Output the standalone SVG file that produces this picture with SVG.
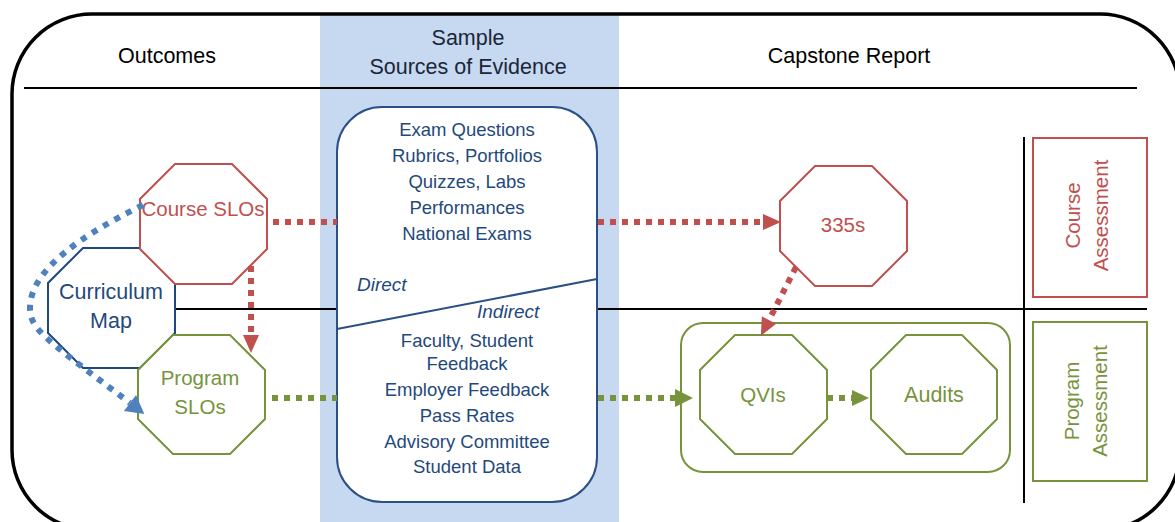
<svg xmlns="http://www.w3.org/2000/svg" width="1175" height="522" viewBox="0 0 1175 522">
<defs>
<style>
text{font-family:"Liberation Sans",Arial,sans-serif}
.hdr{font-size:21.5px;fill:#000;text-anchor:middle}
.hdrb{font-size:21.5px;fill:#1b2638;text-anchor:middle}
.ev{font-size:18.5px;fill:#1F497D;text-anchor:middle}
.evi{font-size:19px;fill:#1F497D;font-style:italic}
.lbl{font-size:20.5px;text-anchor:middle}
.big{font-size:21.5px}
.red{fill:#C0504D}
.grn{fill:#77933C}
.blu{fill:#1F497D}
.octR{fill:#fff;stroke:#C0504D;stroke-width:2}
.octG{fill:#fff;stroke:#77933C;stroke-width:2}
.octB{fill:#fff;stroke:#1F497D;stroke-width:2}
.rule{stroke:#000;stroke-width:2;fill:none}
.dR{fill:none;stroke:#C0504D;stroke-width:6;stroke-dasharray:6 6}
.dG{fill:none;stroke:#77933C;stroke-width:6;stroke-dasharray:6 6}
.dB{fill:none;stroke:#4F81BD;stroke-width:6;stroke-dasharray:6 7}
</style>
<marker id="aR" markerWidth="18" markerHeight="16" refX="0" refY="8" orient="auto" markerUnits="userSpaceOnUse" overflow="visible"><path d="M0,0 L18,8 L0,16 z" fill="#C0504D"/></marker>
<marker id="aG" markerWidth="18" markerHeight="18" refX="0" refY="9" orient="auto" markerUnits="userSpaceOnUse" overflow="visible"><path d="M0,0 L18,9 L0,18 z" fill="#77933C"/></marker>
<marker id="aGs" markerWidth="17" markerHeight="16" refX="0" refY="8" orient="auto" markerUnits="userSpaceOnUse" overflow="visible"><path d="M0,0 L17,8 L0,16 z" fill="#77933C"/></marker>
<marker id="aB" markerWidth="18" markerHeight="20" refX="0" refY="10" orient="auto" markerUnits="userSpaceOnUse" overflow="visible"><path d="M0,0 L18,10 L0,20 z" fill="#4F81BD"/></marker>
</defs>
<rect x="0" y="0" width="1175" height="522" fill="#fff"/>
<g id="frame">
<rect x="320" y="14" width="299" height="520" fill="#C6D9F1"/>
<rect x="12" y="14" width="1168" height="516" rx="80" ry="80" fill="none" stroke="#000" stroke-width="3.5"/>
<line class="rule" x1="24" y1="88" x2="1137" y2="88"/>
<line class="rule" x1="175" y1="309" x2="1147" y2="309"/>
<line class="rule" x1="1024" y1="137" x2="1024" y2="503"/>
<text class="hdr" x="167" y="63">Outcomes</text>
<text class="hdrb" x="468" y="45">Sample</text>
<text class="hdrb" x="468" y="74">Sources of Evidence</text>
<text class="hdr" x="849" y="63">Capstone Report</text>
</g>
<g id="evidence">
<rect x="337" y="107" width="260" height="395" rx="45" ry="45" fill="#fff" stroke="#2A5085" stroke-width="2"/>
<line x1="337" y1="329" x2="597" y2="279" stroke="#2A5085" stroke-width="2"/>
<text class="ev" x="467" y="136">Exam Questions</text>
<text class="ev" x="467" y="162">Rubrics, Portfolios</text>
<text class="ev" x="467" y="188">Quizzes, Labs</text>
<text class="ev" x="467" y="214">Performances</text>
<text class="ev" x="467" y="240">National Exams</text>
<text class="evi" x="357" y="291">Direct</text>
<text class="evi" x="477" y="318">Indirect</text>
<text class="ev" x="467" y="347">Faculty, Student</text>
<text class="ev" x="467" y="370">Feedback</text>
<text class="ev" x="467" y="396">Employer Feedback</text>
<text class="ev" x="467" y="422">Pass Rates</text>
<text class="ev" x="467" y="448">Advisory Committee</text>
<text class="ev" x="467" y="473">Student Data</text>
</g>
<g id="program-container">
<rect x="681" y="323" width="329" height="149" rx="22" ry="22" fill="none" stroke="#77933C" stroke-width="2"/>
</g>
<g id="curriculum-map">
<polygon class="octB" points="83,248 140,248 175,283 175,333 140,368 83,368 48,333 48,283"/>
<text class="lbl big blu" x="111" y="299">Curriculum</text>
<text class="lbl big blu" x="111" y="328">Map</text>
</g>
<g id="course-slos">
<polygon class="octR" points="175,164 232,164 267,199 267,249 232,284 175,284 140,249 140,199"/>
<text class="lbl red" x="203" y="216">Course SLOs</text>
</g>
<g id="program-slos">
<polygon class="octG" points="173,335 230,335 265,370 265,419 230,454 173,454 138,419 138,370"/>
<text class="lbl grn" x="200" y="385">Program</text>
<text class="lbl grn" x="200" y="414">SLOs</text>
</g>
<g id="n335s">
<polygon class="octR" points="815,166 872,166 907,201 907,251 872,286 815,286 780,251 780,201"/>
<text class="lbl red" x="843" y="232">335s</text>
</g>
<g id="qvis">
<polygon class="octG" points="735,335 792,335 827,370 827,419 792,454 735,454 700,419 700,370"/>
<text class="lbl grn" x="763" y="402">QVIs</text>
</g>
<g id="audits">
<polygon class="octG" points="906,335 962,335 997,370 997,419 962,454 906,454 871,419 871,370"/>
<text class="lbl big grn" x="934" y="402">Audits</text>
</g>
<g id="course-assessment">
<rect x="1033" y="138" width="114" height="159" fill="#fff" stroke="#C0504D" stroke-width="2"/>
<text class="lbl red" transform="rotate(-90)" x="-215.5" y="1080">Course</text>
<text class="lbl red" transform="rotate(-90)" x="-215.5" y="1108">Assessment</text>
</g>
<g id="program-assessment">
<rect x="1033" y="322" width="114" height="159" fill="#fff" stroke="#77933C" stroke-width="2"/>
<text class="lbl grn" transform="rotate(-90)" x="-401" y="1079">Program</text>
<text class="lbl grn" transform="rotate(-90)" x="-401" y="1107">Assessment</text>
</g>
<g id="connectors">
<path class="dR" d="M273,222 H337"/>
<path class="dR" d="M598,222 H763" marker-end="url(#aR)"/>
<path class="dR" d="M251,266 V335" marker-end="url(#aR)"/>
<path class="dR" d="M796,267 L769,320" marker-end="url(#aR)"/>
<path class="dG" d="M272,398 H337"/>
<path class="dG" d="M598,398 H675" marker-end="url(#aG)"/>
<path class="dG" d="M827,398 H852" marker-end="url(#aGs)"/>
<path class="dB" d="M143,205 C82,235 30,270 30,308 C30,330 47,340 130,403" marker-end="url(#aB)"/>
</g>
</svg>
